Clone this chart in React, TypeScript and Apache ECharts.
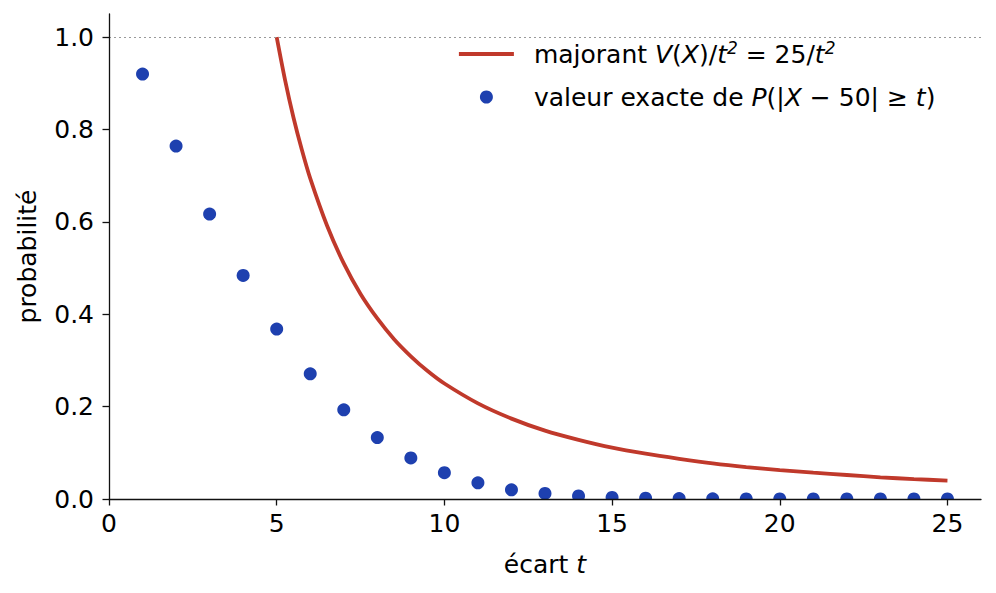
import { useEffect, useRef } from 'react'
import * as echarts from 'echarts'

// P(|X - 50| >= t) pour X ~ B(100, 1/2)
const ECARTS = [1, 2, 3, 4, 5, 6, 7, 8, 9, 10, 11, 12, 13, 14, 15, 16, 17, 18, 19, 20, 21, 22, 23, 24, 25]
const EXACT = [
  0.920, 0.764, 0.617, 0.484, 0.368, 0.271, 0.193, 0.133, 0.089, 0.057,
  0.035, 0.020, 0.012, 0.0066, 0.0035, 0.0018, 0.0009, 0.0004, 0.0002, 0.0001,
  0.00003, 0.00001, 0.0, 0.0, 0.0,
]

// majorant de Bienaymé-Tchebychev 25/t²
const MAJ_T = [5, 5.25, 5.5, 5.75, 6, 6.5, 7, 7.5, 8, 8.5, 9, 9.5, 10, 11, 12, 13, 14, 15, 16, 17, 18, 19, 20, 21, 22, 23, 24, 25]
const MAJ_V = [
  1.0, 0.907, 0.826, 0.756, 0.694, 0.592, 0.510, 0.444, 0.391, 0.346, 0.309, 0.277, 0.25,
  0.207, 0.174, 0.148, 0.128, 0.111, 0.098, 0.087, 0.077, 0.069, 0.0625, 0.057, 0.052, 0.047, 0.043, 0.04,
]

const X_TICKS = { min: 0, max: 26, interval: 5 }
const Y_TICKS = { min: 0, max: 1.05, interval: 0.2 }

const RED = '#c0392b'
const BLUE = '#1e40af'
const FONT = 'DejaVu Sans'
const FS = 25

const NOM_MAJ = 'majorant {i|V}({i|X})/{i|t}{s|2} = 25/{i|t}{s|2}'
const NOM_EXACT = 'valeur exacte de {i|P}(|{i|X} − 50| ≥ {i|t})'

export default function App() {
  const elRef = useRef<HTMLDivElement>(null)

  useEffect(() => {
    if (!elRef.current) return
    const chart = echarts.init(elRef.current, undefined, { renderer: 'svg' })
    const axisCommon = {
      z: 10,
      axisLine: { lineStyle: { color: '#111', width: 1.3 } },
      axisTick: { show: true, length: 6.5, lineStyle: { color: '#111', width: 1.3 } },
      splitLine: { show: false },
    }
    const italic = { fontStyle: 'italic', fontSize: FS, fontFamily: FONT, color: '#000' }
    chart.setOption({
      animation: false,
      backgroundColor: '#fff',
      textStyle: { fontFamily: FONT },
      grid: { left: 109, right: 15, top: 14, bottom: 94 },
      xAxis: {
        ...axisCommon,
        type: 'value',
        min: X_TICKS.min,
        max: X_TICKS.max,
        interval: X_TICKS.interval,
        name: 'écart {i|t}',
        nameLocation: 'middle',
        nameGap: 53,
        nameTextStyle: { color: '#000', fontSize: FS, fontFamily: FONT, rich: { i: italic } },
        axisLabel: {
          color: '#000',
          fontSize: FS,
          fontFamily: FONT,
          margin: 12,
          showMaxLabel: false,
          formatter: (v: number) => (v % 5 === 0 ? String(v) : ''),
        },
      },
      yAxis: {
        ...axisCommon,
        type: 'value',
        min: Y_TICKS.min,
        max: Y_TICKS.max,
        interval: Y_TICKS.interval,
        name: 'probabilité',
        nameLocation: 'middle',
        nameGap: 69,
        nameTextStyle: { color: '#000', fontSize: FS, fontFamily: FONT },
        axisLabel: {
          color: '#000',
          fontSize: FS,
          fontFamily: FONT,
          margin: 15,
          showMaxLabel: false,
          formatter: (v: number) => v.toFixed(1),
        },
      },
      legend: {
        orient: 'vertical',
        left: 457,
        top: 39,
        padding: 0,
        itemWidth: 55,
        itemHeight: 13,
        itemGap: 13,
        selectedMode: false,
        textStyle: {
          color: '#000',
          fontSize: FS,
          fontFamily: FONT,
          lineHeight: 30,
          padding: [0, 0, 0, 15],
          rich: {
            i: { ...italic, lineHeight: 30 },
            s: { ...italic, fontSize: 17, verticalAlign: 'top', lineHeight: 17 },
          },
        },
        data: [
          { name: NOM_MAJ, itemStyle: { opacity: 0 }, lineStyle: { color: RED, width: 3.8 } },
          { name: NOM_EXACT, icon: 'circle' },
        ],
      },
      graphic: [
        {
          // masque la moitié basse des points sous l'axe (comme le clip de matplotlib)
          type: 'rect',
          z: 5,
          shape: { x: 100, y: 499.6, width: 896, height: 14 },
          style: { fill: '#fff' },
          silent: true,
        },
      ],
      series: [
        {
          name: NOM_MAJ,
          type: 'line',
          data: MAJ_T.map((t, i) => [t, MAJ_V[i]]),
          smooth: 0.3,
          symbol: 'none',
          lineStyle: { color: RED, width: 3.8 },
          itemStyle: { color: RED },
          z: 3,
          markLine: {
            silent: true,
            symbol: 'none',
            label: { show: false },
            lineStyle: { color: '#999', type: [2, 3], width: 1.2 },
            data: [{ yAxis: 1 }],
          },
        },
        {
          name: NOM_EXACT,
          type: 'scatter',
          data: ECARTS.map((t, i) => [t, EXACT[i]]),
          symbol: 'circle',
          symbolSize: 13,
          itemStyle: { color: BLUE, opacity: 1 },
          z: 4,
        },
      ],
    })
    return () => chart.dispose()
  }, [])

  return <div ref={elRef} style={{ position: 'fixed', left: 0, top: 0, width: 996, height: 593 }} />
}
